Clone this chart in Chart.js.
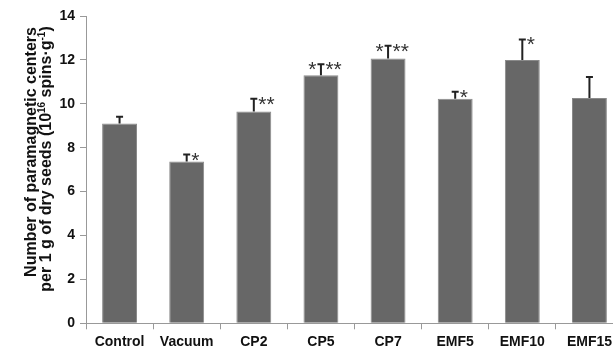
<!DOCTYPE html>
<html>
<head>
<meta charset="utf-8">
<script src="https://cdn.jsdelivr.net/npm/chart.js@4.4.1/dist/chart.umd.min.js"></script>
<style>
  html, body { margin:0; padding:0; background:#fff; overflow:hidden; }
  #wrap { width:623px; height:347px; position:relative; }
</style>
</head>
<body>
<div id="wrap"><canvas id="chart"></canvas></div>
<script>
// data
const groups   = ['Control','Vacuum','CP2','CP5','CP7','EMF5','EMF10','EMF15'];
const means    = [9.10, 7.37, 9.65, 11.30, 12.06, 10.23, 12.00, 10.26];
const errs     = [0.31, 0.32, 0.58, 0.50, 0.58, 0.32, 0.93, 0.96];
const sigLeft  = ['', '', '', '*', '*', '', '', ''];
const sigRight = ['', '*', '**', '**', '**', '*', '*', ''];
const yTicks   = [0, 2, 4, 6, 8, 10, 12, 14];

const FONT = "'Liberation Sans', Arial, sans-serif";

// 誤差線 + 星號
const errorBars = {
  id: 'errorBars',
  afterDatasetsDraw(chart) {
    const { ctx, scales: { y } } = chart;
    const meta = chart.getDatasetMeta(0);
    ctx.save();
    ctx.strokeStyle = '#222';
    ctx.lineWidth = 2;
    meta.data.forEach((bar, i) => {
      const top = y.getPixelForValue(means[i] + errs[i]);
      const base = y.getPixelForValue(means[i]);
      ctx.beginPath();
      ctx.moveTo(bar.x, base);
      ctx.lineTo(bar.x, top);
      ctx.moveTo(bar.x - 3.5, top);
      ctx.lineTo(bar.x + 3.5, top);
      ctx.stroke();

      ctx.fillStyle = '#333';
      ctx.font = `21px ${FONT}`;
      ctx.textBaseline = 'alphabetic';
      if (sigRight[i]) {
        ctx.textAlign = 'left';
        ctx.fillText(sigRight[i], bar.x + 4.5, top + 12);
      }
      if (sigLeft[i]) {
        ctx.textAlign = 'right';
        ctx.fillText(sigLeft[i], bar.x - 4.5, top + 12);
      }
    });
    ctx.restore();
  }
};

// 縱軸標題（含上標）
const yTitle = {
  id: 'yTitle',
  afterDraw(chart) {
    const { ctx } = chart;
    const lines = [
      { x: 36, cy: 152, segs: [{ t: 'Number of paramagnetic centers' }] },
      { x: 51, cy: 159, segs: [
        { t: 'per 1 g of dry seeds (10' }, { t: '16', sup: true },
        { t: ' spins\u00b7g' }, { t: '-1', sup: true }, { t: ')' } ] }
    ];
    ctx.save();
    ctx.fillStyle = '#111';
    ctx.textBaseline = 'alphabetic';
    ctx.textAlign = 'left';
    const big = `bold 16px ${FONT}`, small = `bold 10px ${FONT}`;
    lines.forEach(l => {
      let w = 0;
      l.segs.forEach(s => { ctx.font = s.sup ? small : big; w += ctx.measureText(s.t).width; });
      ctx.save();
      ctx.translate(l.x, l.cy);
      ctx.rotate(-Math.PI / 2);
      let px = -w / 2;
      l.segs.forEach(s => {
        ctx.font = s.sup ? small : big;
        ctx.fillText(s.t, px, s.sup ? -6 : 0);
        px += ctx.measureText(s.t).width;
      });
      ctx.restore();
    });
    ctx.restore();
  }
};

new Chart(document.getElementById('chart'), {
  type: 'bar',
  data: {
    labels: groups,
    datasets: [{
      data: means,
      backgroundColor: '#676767',
      borderColor: '#8a8a8a',
      borderWidth: 1,
      barPercentage: 0.52,
      categoryPercentage: 1
    }]
  },
  options: {
    responsive: true,
    maintainAspectRatio: false,
    animation: false,
    layout: { padding: { top: 16, left: 0, right: 0, bottom: 0 } },
    plugins: { legend: { display: false }, tooltip: { enabled: false } },
    scales: {
      x: {
        grid: { drawOnChartArea: false, tickLength: 6, color: '#999', offset: true },
        border: { color: '#999', width: 1 },
        ticks: { color: '#111', font: { family: FONT, size: 14, weight: 'bold' }, padding: 4, maxRotation: 0, autoSkip: false },
        afterFit(s) { s.height = 23.7; }
      },
      y: {
        min: 0, max: 14,
        afterBuildTicks(s) { s.ticks = yTicks.map(v => ({ value: v })); },
        grid: { drawOnChartArea: false, tickLength: 6, color: '#999' },
        border: { color: '#999', width: 1 },
        ticks: { color: '#111', font: { family: FONT, size: 14, weight: 'bold' }, padding: 5 },
        afterFit(s) { s.width = 86; }
      }
    }
  },
  plugins: [errorBars, yTitle]
});
</script>
</body>
</html>
